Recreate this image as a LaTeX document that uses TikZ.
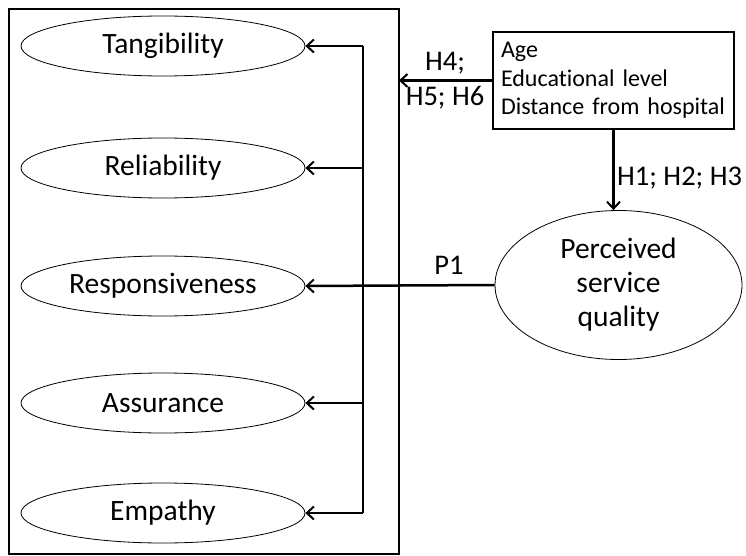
\documentclass[tikz,border=0pt]{standalone}
\usepackage{fontspec}
\setmainfont[Ligatures=NoCommon]{Carlito}
\usetikzlibrary{arrows.meta,shapes.geometric}
\begin{document}
\begin{tikzpicture}[x=1pt,y=-1pt,
  ell/.style={draw,ellipse,line width=0.8pt,minimum width=284pt,minimum height=60pt,inner sep=0pt,font=\fontsize{29.5}{34}\selectfont},
  conn/.style={line width=2.5pt},
  arr/.style={line width=2.5pt,-{Straight Barb[length=7pt,width=13pt,line width=2pt]}},
  lbl/.style={font=\fontsize{28.5}{34}\selectfont,inner sep=0pt}]
\useasboundingbox (0,0) rectangle (746,556);
\draw[line width=1.8pt] (9,9) rectangle (399,554);
\node[ell] (tan) at (163,46) {Tangibility};
\node[ell] (rel) at (163,168) {Reliability};
\node[ell] (res) at (163,286) {Responsiveness};
\node[ell] (ass) at (163,403) {Assurance};
\node[ell] (emp) at (163,513) {Empathy};
\coordinate (b1) at (363,46);
\coordinate (b2) at (363,168);
\coordinate (b4) at (363,403);
\coordinate (b5) at (363,513);
\draw[conn] (b1) -- (b5);
\draw[arr] (b1) -- (tan);
\draw[arr] (b2) -- (rel);
\draw[arr] (b4) -- (ass);
\draw[arr] (b5) -- (emp);
\node[draw,line width=2pt,minimum width=241pt,minimum height=97pt,text width=225pt,align=left,inner sep=0pt,font=\fontsize{24}{28.5}\selectfont] (dem) at (613.5,80.5) {Age\\Educational level\\Distance from hospital};
\node[draw,ellipse,line width=0.8pt,minimum width=247pt,minimum height=149pt,inner sep=0pt,align=center,font=\fontsize{29.5}{34}\selectfont] (per) at (618.5,285) {Perceived\\service\\quality};
\coordinate (re) at (399,80.5);
\draw[arr] (dem.west) -- (re);
\draw[arr] (dem.south) -- (dem.south |- per.north);
\draw[arr] (per.west) -- (res.east);
\node[lbl] (h4) at (445,63) {H4;};
\node[lbl] (h56) at (445,98) {H5; H6};
\node[lbl,anchor=west] (h123) at (617,178) {H1; H2; H3};
\node[lbl] (p1) at (449,265) {P1};
\end{tikzpicture}
\end{document}
